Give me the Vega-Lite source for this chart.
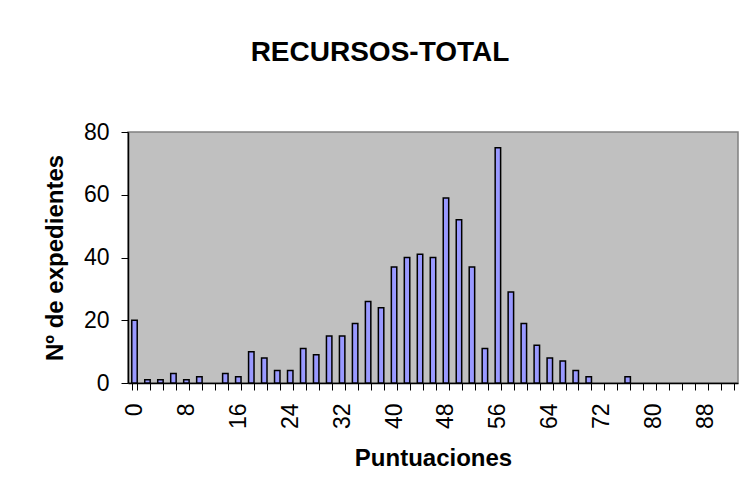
{
  "$schema": "https://vega.github.io/schema/vega-lite/v6.json",
  "autosize": {"type": "none"},
  "padding": {"left": 128, "top": 132, "right": 7, "bottom": 114},
  "width": 610,
  "height": 251,
  "background": "white",
  "title": {
    "text": "RECURSOS-TOTAL",
    "font": "Liberation Sans",
    "fontSize": 28,
    "fontWeight": "bold",
    "color": "black",
    "anchor": "middle",
    "frame": "group",
    "dx": -53,
    "offset": 54
  },
  "data": {
    "values": [
      {"p": 0, "n": 20}, {"p": 2, "n": 1}, {"p": 4, "n": 1}, {"p": 6, "n": 3},
      {"p": 8, "n": 1}, {"p": 10, "n": 2}, {"p": 14, "n": 3}, {"p": 16, "n": 2},
      {"p": 18, "n": 10}, {"p": 20, "n": 8}, {"p": 22, "n": 4}, {"p": 24, "n": 4},
      {"p": 26, "n": 11}, {"p": 28, "n": 9}, {"p": 30, "n": 15}, {"p": 32, "n": 15},
      {"p": 34, "n": 19}, {"p": 36, "n": 26}, {"p": 38, "n": 24}, {"p": 40, "n": 37},
      {"p": 42, "n": 40}, {"p": 44, "n": 41}, {"p": 46, "n": 40}, {"p": 48, "n": 59},
      {"p": 50, "n": 52}, {"p": 52, "n": 37}, {"p": 54, "n": 11}, {"p": 56, "n": 75},
      {"p": 58, "n": 29}, {"p": 60, "n": 19}, {"p": 62, "n": 12}, {"p": 64, "n": 8},
      {"p": 66, "n": 7}, {"p": 68, "n": 4}, {"p": 70, "n": 2}, {"p": 76, "n": 2}
    ]
  },
  "mark": {"type": "bar", "fill": "#9999FF", "stroke": "black", "strokeWidth": 1.5},
  "encoding": {
    "x": {
      "field": "p",
      "type": "ordinal",
      "title": "Puntuaciones",
      "scale": {
        "domain": [0,2,4,6,8,10,12,14,16,18,20,22,24,26,28,30,32,34,36,38,40,42,44,46,48,50,52,54,56,58,60,62,64,66,68,70,72,74,76,78,80,82,84,86,88,90,92],
        "paddingInner": 0.58,
        "paddingOuter": 0.29
      },
      "axis": {
        "labelExpr": "datum.value % 8 == 0 ? datum.label : ''",
        "labelAngle": 270,
        "labelFont": "Liberation Sans",
        "labelFontSize": 23,
        "labelColor": "black",
        "labelPadding": 13,
        "tickBand": "extent",
        "tickSize": 7,
        "tickColor": "black",
        "domainColor": "black",
        "domainWidth": 1.5,
        "titleFont": "Liberation Sans",
        "titleFontSize": 24,
        "titleFontWeight": "bold",
        "titleColor": "black",
        "titlePadding": 18,
        "labelOverlap": false
      }
    },
    "y": {
      "field": "n",
      "type": "quantitative",
      "title": "Nº de expedientes",
      "scale": {"domain": [0, 80], "nice": false},
      "axis": {
        "values": [0, 20, 40, 60, 80],
        "grid": false,
        "labelFont": "Liberation Sans",
        "labelFontSize": 23,
        "labelColor": "black",
        "labelPadding": 12,
        "tickSize": 7,
        "tickColor": "black",
        "domainColor": "black",
        "domainWidth": 1.5,
        "titleFont": "Liberation Sans",
        "titleFontSize": 24,
        "titleFontWeight": "bold",
        "titleColor": "black",
        "titlePadding": 16
      }
    }
  },
  "config": {
    "view": {"fill": "#C0C0C0", "stroke": "#808080", "strokeWidth": 1.5}
  }
}
